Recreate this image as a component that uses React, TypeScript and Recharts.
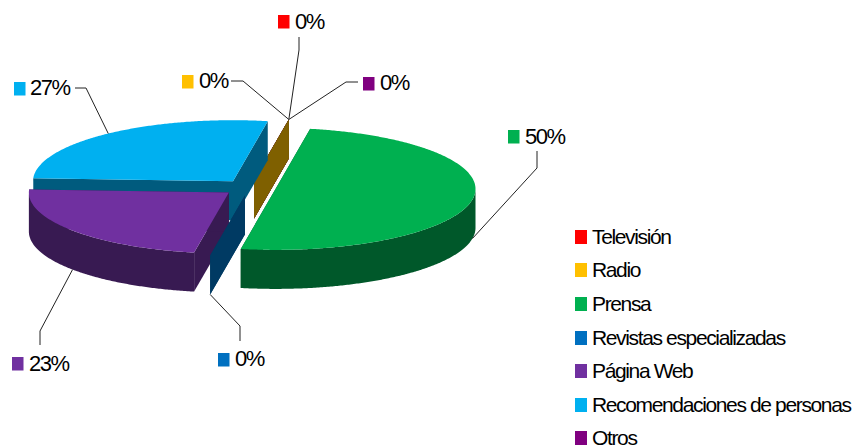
import { PieChart, Pie, Legend } from "recharts";

const categories = [
  "Televisión",
  "Radio",
  "Prensa",
  "Revistas especializadas",
  "Página Web",
  "Recomendaciones de personas",
  "Otros",
];
const shares = [0, 0, 50, 0, 23, 27, 0];
const topColors = ["#ff0000", "#ffc000", "#00b050", "#0070c0", "#7030a0", "#00b0f0", "#800080"];
const wallColors = ["#7f0000", "#7f6000", "#00582a", "#003a63", "#381a52", "#005b7e", "#400040"];

// back to front, the slices are pulled apart so they overlap in this order
const drawOrder = [
  "Televisión",
  "Otros",
  "Radio",
  "Recomendaciones de personas",
  "Página Web",
  "Revistas especializadas",
  "Prensa",
];

const rows = categories.map((name, i) => ({
  name,
  value: shares[i],
  fill: topColors[i],
  wall: wallColors[i],
}));

const FONT = '"Liberation Sans", Arial, sans-serif';
const TILT = 0.305;
const DEPTH = 39;
const EXPLODE = 26.4;

// callout placement: leader knee + end, colour key, text
const callouts: Record<string, { line: number[][]; key: number[]; text: number[] }> = {
  Televisión: { line: [[299, 50], [299, 37]], key: [278, 15], text: [295, 29] },
  Radio: { line: [[243, 81], [231, 81]], key: [182, 75], text: [199, 88] },
  Prensa: { line: [[537, 168], [537, 151]], key: [508, 130], text: [525, 144] },
  "Revistas especializadas": { line: [[240, 326], [240, 341]], key: [218, 353], text: [235, 366] },
  "Página Web": { line: [[40, 331], [40, 345]], key: [12, 357], text: [29, 371] },
  "Recomendaciones de personas": { line: [[86, 88], [75, 88]], key: [14, 82], text: [30, 95] },
  Otros: { line: [[346, 82], [358, 82]], key: [363, 77], text: [380, 90] },
};

const rad = (deg: number) => (deg * Math.PI) / 180;

function explodedCenter(cx: number, cy: number, midAngle: number) {
  return {
    x: cx + EXPLODE * Math.cos(rad(midAngle)),
    y: cy - EXPLODE * TILT * Math.sin(rad(midAngle)),
  };
}

function rimPoint(c: { x: number; y: number }, r: number, angle: number) {
  return [c.x + r * Math.cos(rad(angle)), c.y - r * TILT * Math.sin(rad(angle))];
}

const toPath = (pts: number[][]) =>
  "M" + pts.map((p) => `${p[0].toFixed(2)},${p[1].toFixed(2)}`).join("L") + "Z";

function Slice3D(props: any) {
  const { cx, cy, outerRadius, startAngle, endAngle, midAngle, fill, wall } = props;
  const c = explodedCenter(cx, cy, midAngle);
  const sweep: number[] = [];
  const steps = Math.max(1, Math.ceil(Math.abs(endAngle - startAngle) / 0.5));
  for (let i = 0; i <= steps; i++) sweep.push(startAngle + ((endAngle - startAngle) * i) / steps);
  const rim = sweep.map((a) => rimPoint(c, outerRadius, a));
  const down = (p: number[]) => [p[0], p[1] + DEPTH];
  const front = sweep.filter((a) => Math.sin(rad(a)) <= 0.001).map((a) => rimPoint(c, outerRadius, a));
  const apex = [c.x, c.y];
  const cutWall = (p: number[]) => toPath([apex, p, down(p), down(apex)]);

  return (
    <g>
      <path d={cutWall(rim[0])} fill={wall} />
      <path d={cutWall(rim[rim.length - 1])} fill={wall} />
      {front.length > 1 && (
        <path d={toPath([...front, ...front.slice().reverse().map(down)])} fill={wall} />
      )}
      {steps > 1 && <path d={toPath([apex, ...rim])} fill={fill} />}
    </g>
  );
}

function Callout(props: any) {
  const { cx, cy, outerRadius, midAngle, name, value, fill } = props;
  const spot = callouts[name];
  if (!spot) return null;
  const c = explodedCenter(cx, cy, midAngle);
  const p = rimPoint(c, outerRadius, midAngle);
  if (Math.sin(rad(midAngle)) < 0) p[1] += DEPTH;
  return (
    <g>
      <polyline
        points={[p, ...spot.line].map((q) => q.join(",")).join(" ")}
        fill="none"
        stroke="#222"
        strokeWidth={1}
      />
      <rect x={spot.key[0]} y={spot.key[1]} width={11.5} height={13.5} fill={fill} />
      <text
        x={spot.text[0]}
        y={spot.text[1]}
        fontFamily={FONT}
        fontSize={22}
        letterSpacing={-1.5}
        fill="#000"
      >
        {value}%
      </text>
    </g>
  );
}

function LegendList({ payload }: any) {
  const items = (payload || []).filter((item: any) => item.type !== "none");
  return (
    <div style={{ fontFamily: FONT, fontSize: 21, letterSpacing: -1.36, color: "#000" }}>
      {items.map((item: any) => (
        <div key={item.value} style={{ height: 33.6, display: "flex", alignItems: "center", whiteSpace: "nowrap" }}>
          <span style={{ width: 12, height: 14, marginRight: 5, background: item.color, flex: "none" }} />
          {item.value}
        </div>
      ))}
    </div>
  );
}

export default function App() {
  return (
    <div style={{ position: "absolute", left: 0, top: 0 }}>
      <PieChart width={853} height={448}>
        {drawOrder.map((layer, i) => (
          <Pie
            key={layer}
            data={rows}
            dataKey="value"
            nameKey="name"
            cx={244.5}
            cy={182.5}
            outerRadius={200}
            startAngle={80}
            endAngle={-280}
            stroke="none"
            legendType={i === 0 ? "square" : "none"}
            shape={(p: any) => (p.name === layer ? <Slice3D {...p} /> : <g />)}
            label={i === drawOrder.length - 1 ? (p: any) => <Callout {...p} /> : false}
            labelLine={false}
            isAnimationActive={false}
          />
        ))}
        <Legend
          layout="vertical"
          itemSorter={null}
          content={<LegendList />}
          wrapperStyle={{ position: "absolute", left: 575, top: 220, width: 278, bottom: "auto", right: "auto" }}
        />
      </PieChart>
    </div>
  );
}
